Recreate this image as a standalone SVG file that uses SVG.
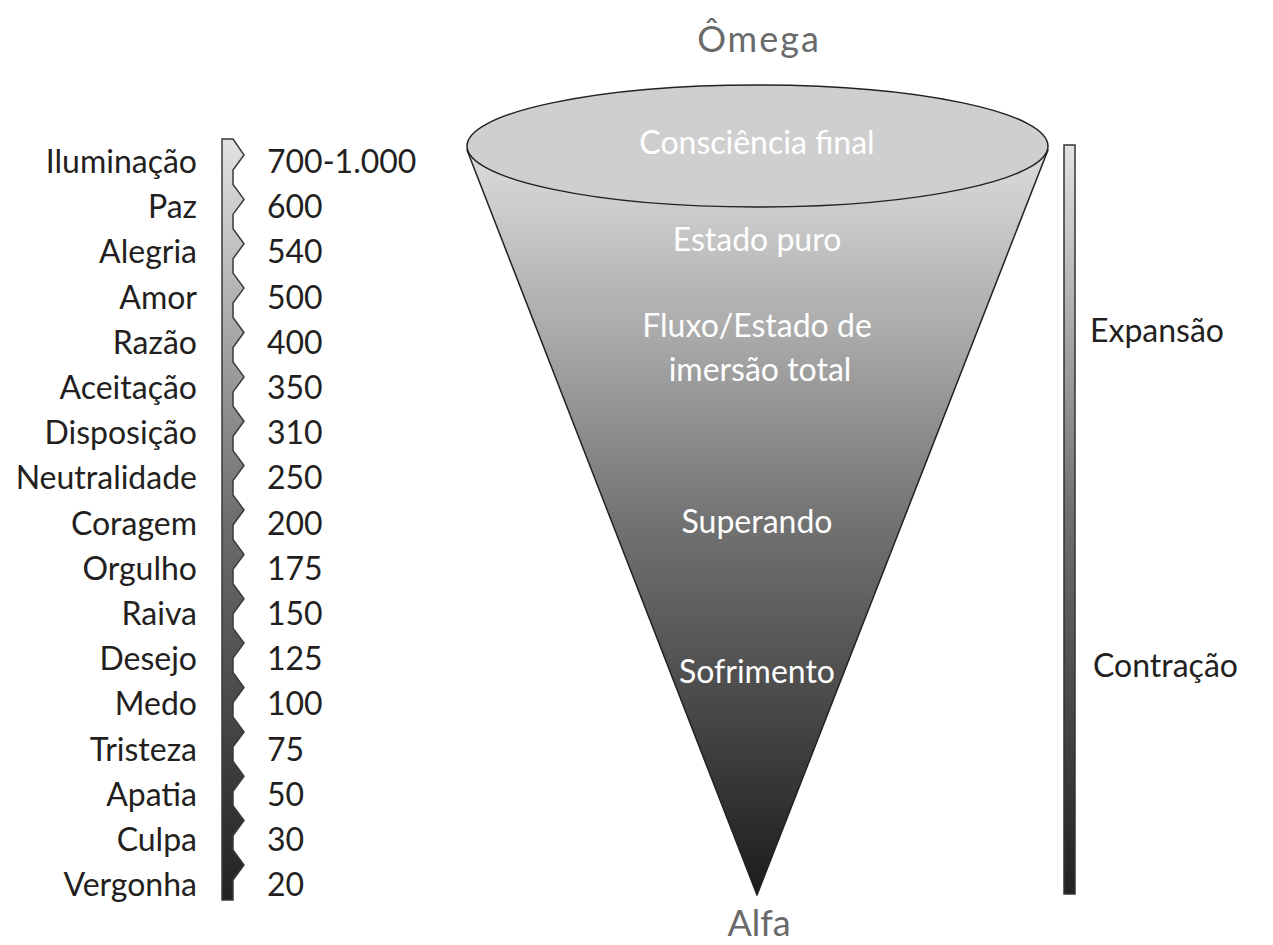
<svg xmlns="http://www.w3.org/2000/svg" width="1273" height="945" viewBox="0 0 1273 945">
  <defs>
    <linearGradient id="coneGrad" gradientUnits="userSpaceOnUse" x1="0" y1="150" x2="0" y2="895">
      <stop offset="0" stop-color="#dcdcdc"/>
      <stop offset="0.25" stop-color="#a9a9a9"/>
      <stop offset="0.5" stop-color="#727272"/>
      <stop offset="0.75" stop-color="#484848"/>
      <stop offset="1" stop-color="#1c1c1c"/>
    </linearGradient>
    <linearGradient id="barGrad" gradientUnits="userSpaceOnUse" x1="0" y1="139" x2="0" y2="900">
      <stop offset="0" stop-color="#e2e2e2"/>
      <stop offset="0.5" stop-color="#6e6e6e"/>
      <stop offset="1" stop-color="#222222"/>
    </linearGradient>
    <linearGradient id="rbarGrad" gradientUnits="userSpaceOnUse" x1="0" y1="145" x2="0" y2="894">
      <stop offset="0" stop-color="#e2e2e2"/>
      <stop offset="0.5" stop-color="#6e6e6e"/>
      <stop offset="1" stop-color="#222222"/>
    </linearGradient>
  </defs>
  <style>
    .lbl { font-family: Lato, "Open Sans", sans-serif; font-size: 32px; fill: #231f20; }
    .lab { text-anchor: end; }
    .in { font-family: Lato, "Open Sans", sans-serif; font-size: 32px; fill: #ffffff; text-anchor: middle; }
    .pole { font-family: Lato, "Open Sans", sans-serif; font-size: 36px; fill: #6a6a6a; text-anchor: middle; }
  </style>
  <rect x="0" y="0" width="1273" height="945" fill="#ffffff"/>

  <g id="title-omega"><text class="pole" x="759" y="52" letter-spacing="2">Ômega</text></g>
  <g id="title-alfa"><text class="pole" x="759" y="936">Alfa</text></g>

  <g id="scale-bar">
    <path d="M222,139 L233,139 L244,155 L233,170 L233,184.4 L244,199.4 L233,214.4 L233,228.75 L244,243.75 L233,258.75 L233,273.1 L244,288.1 L233,303.1 L233,317.5 L244,332.5 L233,347.5 L233,361.9 L244,376.9 L233,391.9 L233,406.25 L244,421.25 L233,436.25 L233,450.6 L244,465.6 L233,480.6 L233,495 L244,510 L233,525 L233,539.4 L244,554.4 L233,569.4 L233,583.75 L244,598.75 L233,613.75 L233,628.1 L244,643.1 L233,658.1 L233,672.5 L244,687.5 L233,702.5 L233,716.9 L244,731.9 L233,746.9 L233,761.25 L244,776.25 L233,791.25 L233,805.6 L244,820.6 L233,835.6 L233,850 L244,865 L233,880 L233,900 L222,900 Z" fill="url(#barGrad)" stroke="#3a3a3a" stroke-width="1.5" stroke-linejoin="miter"/>
  </g>

  <g id="scale-labels">
    <text class="lbl lab" x="197" y="173">Iluminação</text>
    <text class="lbl lab" x="197" y="218">Paz</text>
    <text class="lbl lab" x="197" y="263">Alegria</text>
    <text class="lbl lab" x="197" y="309">Amor</text>
    <text class="lbl lab" x="197" y="354">Razão</text>
    <text class="lbl lab" x="197" y="399">Aceitação</text>
    <text class="lbl lab" x="197" y="444">Disposição</text>
    <text class="lbl lab" x="197" y="489">Neutralidade</text>
    <text class="lbl lab" x="197" y="535">Coragem</text>
    <text class="lbl lab" x="197" y="580">Orgulho</text>
    <text class="lbl lab" x="197" y="625">Raiva</text>
    <text class="lbl lab" x="197" y="670">Desejo</text>
    <text class="lbl lab" x="197" y="715">Medo</text>
    <text class="lbl lab" x="197" y="761">Tristeza</text>
    <text class="lbl lab" x="197" y="806">Apatia</text>
    <text class="lbl lab" x="197" y="851">Culpa</text>
    <text class="lbl lab" x="197" y="896">Vergonha</text>
  </g>
  <g id="scale-values">
    <text class="lbl" x="267" y="173">700-1.000</text>
    <text class="lbl" x="267" y="218">600</text>
    <text class="lbl" x="267" y="263">540</text>
    <text class="lbl" x="267" y="309">500</text>
    <text class="lbl" x="267" y="354">400</text>
    <text class="lbl" x="267" y="399">350</text>
    <text class="lbl" x="267" y="444">310</text>
    <text class="lbl" x="267" y="489">250</text>
    <text class="lbl" x="267" y="535">200</text>
    <text class="lbl" x="267" y="580">175</text>
    <text class="lbl" x="267" y="625">150</text>
    <text class="lbl" x="267" y="670">125</text>
    <text class="lbl" x="267" y="715">100</text>
    <text class="lbl" x="267" y="761">75</text>
    <text class="lbl" x="267" y="806">50</text>
    <text class="lbl" x="267" y="851">30</text>
    <text class="lbl" x="267" y="896">20</text>
  </g>

  <g id="cone">
    <path d="M467,150 L757,895 L1048,150 Z" fill="url(#coneGrad)" stroke="#222" stroke-width="1.5" stroke-linejoin="round"/>
    <ellipse cx="757.5" cy="146" rx="290.5" ry="61" fill="#cfcfcf" stroke="#222" stroke-width="1.5"/>
  </g>
  <g id="cone-labels">
    <text class="in" x="757" y="154">Consciência final</text>
    <text class="in" x="757" y="251">Estado puro</text>
    <text class="in" x="757" y="337">Fluxo/Estado de</text>
    <text class="in" x="760" y="381">imersão total</text>
    <text class="in" x="757" y="533">Superando</text>
    <text class="in" x="757" y="683">Sofrimento</text>
  </g>

  <g id="axis-bar">
    <rect x="1064" y="145" width="11" height="749" fill="url(#rbarGrad)" stroke="#333" stroke-width="1.5"/>
  </g>
  <g id="axis-labels">
    <text class="lbl" x="1090" y="342">Expansão</text>
    <text class="lbl" x="1093" y="677">Contração</text>
  </g>
</svg>
